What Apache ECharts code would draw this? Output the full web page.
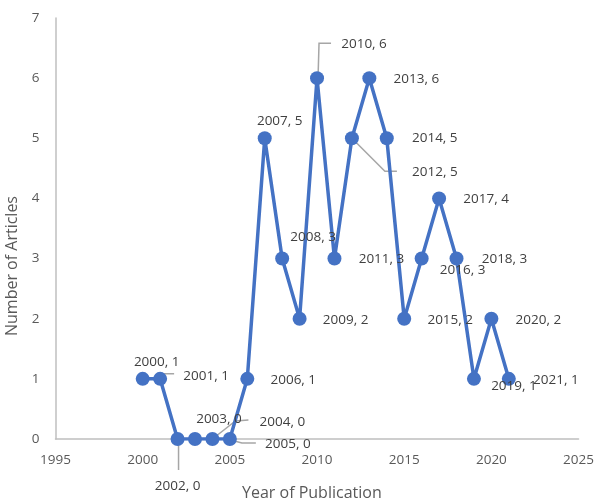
<!DOCTYPE html>
<html>
<head>
<meta charset="utf-8">
<script src="https://cdn.jsdelivr.net/npm/echarts@6/dist/echarts.min.js"></script>
<style>
  html, body { margin: 0; padding: 0; background: #fff; }
  #chart { width: 597px; height: 504px; }
</style>
</head>
<body>
<div id="chart"></div>
<script>
// Articles published per year
const years = [2000, 2001, 2002, 2003, 2004, 2005, 2006, 2007, 2008, 2009, 2010,
               2011, 2012, 2013, 2014, 2015, 2016, 2017, 2018, 2019, 2020, 2021];
const articles = [1, 1, 0, 0, 0, 0, 1, 5, 3, 2, 6, 3, 5, 6, 5, 2, 3, 4, 3, 1, 2, 1];

// Axis ranges
const xTicks = { min: 1995, max: 2025, step: 5 };
const yTicks = { min: 0, max: 7, step: 1 };

// Label placement: offset of each label's centre from its marker, in px
const labelOffsets = {
  2000: [14, -17], 2001: [46, -3], 2002: [0, 47], 2003: [24, -20],
  2004: [70, -17], 2005: [58, 5], 2006: [46, 1], 2007: [15, -17],
  2008: [31, -21], 2009: [46, 1], 2010: [47, -34], 2011: [47, 1],
  2012: [83, 34], 2013: [47, 1], 2014: [48, 0], 2015: [46, 1],
  2016: [41, 12], 2017: [47, 1], 2018: [48, 1], 2019: [40, 7],
  2020: [47, 1], 2021: [47, 1]
};

// Leader lines for labels pulled away from their markers (px relative to marker)
const leaderPaths = {
  2001: [[1, -1], [3, -5], [14, -5]],
  2002: [[1, 3], [1, 31]],
  2004: [[0, 0], [23, -18], [36, -19]],
  2005: [[1, 1], [12, 4], [26, 4]],
  2010: [[1, 0], [2, -35], [14, -35]],
  2012: [[0, 0], [33, 33], [45, 33]]
};

const FONT = '"Open Sans", sans-serif';

const lineData = years.map((y, i) => ({
  value: [y, articles[i]],
  label: { offset: labelOffsets[y] || [46, 1] }
}));

const leaderData = years
  .map((y, i) => [y, articles[i]])
  .filter(d => leaderPaths[d[0]]);

const chart = echarts.init(document.getElementById('chart'), null, { renderer: 'canvas' });

chart.setOption({
  animation: false,
  backgroundColor: '#ffffff',
  grid: { left: 55.5, right: 17, top: 18, bottom: 65, containLabel: false },
  xAxis: {
    type: 'value',
    min: xTicks.min, max: xTicks.max, interval: xTicks.step,
    axisLine: { show: true, onZero: false, lineStyle: { color: '#bfbfbf', width: 1.5 } },
    axisTick: { show: false },
    splitLine: { show: false },
    axisLabel: { color: '#595959', fontSize: 13.5, fontFamily: FONT, margin: 14,
                 formatter: v => String(v) }
  },
  yAxis: {
    type: 'value',
    min: yTicks.min, max: yTicks.max, interval: yTicks.step,
    axisLine: { show: true, lineStyle: { color: '#bfbfbf', width: 1.5 } },
    axisTick: { show: false },
    splitLine: { show: false },
    axisLabel: { color: '#595959', fontSize: 13.5, fontFamily: FONT, margin: 16 }
  },
  graphic: [
    {
      type: 'text', left: 4, top: 196, rotation: Math.PI / 2,
      style: { text: 'Number of Articles', fill: '#595959', font: '16px ' + FONT }
    },
    {
      type: 'text', left: 242, top: 485,
      style: { text: 'Year of Publication', fill: '#595959', font: '16px ' + FONT }
    }
  ],
  series: [
    {
      type: 'custom',
      z: 1,
      silent: true,
      data: leaderData,
      renderItem: (params, api) => {
        const year = api.value(0);
        const p = api.coord([year, api.value(1)]);
        const pts = leaderPaths[year].map(o => [p[0] + o[0], p[1] + o[1]]);
        return {
          type: 'polyline',
          shape: { points: pts },
          style: { stroke: '#a6a6a6', lineWidth: 1.5, fill: null }
        };
      }
    },
    {
      type: 'line',
      z: 2,
      data: lineData,
      symbol: 'circle',
      symbolSize: 14,
      lineStyle: { color: '#4472c4', width: 3.5 },
      itemStyle: { color: '#4472c4' },
      label: {
        show: true,
        position: 'inside',
        align: 'center',
        verticalAlign: 'middle',
        color: '#404040',
        fontSize: 13.5,
        fontFamily: FONT,
        formatter: p => p.value[0] + ', ' + p.value[1]
      }
    }
  ]
});
</script>
</body>
</html>
